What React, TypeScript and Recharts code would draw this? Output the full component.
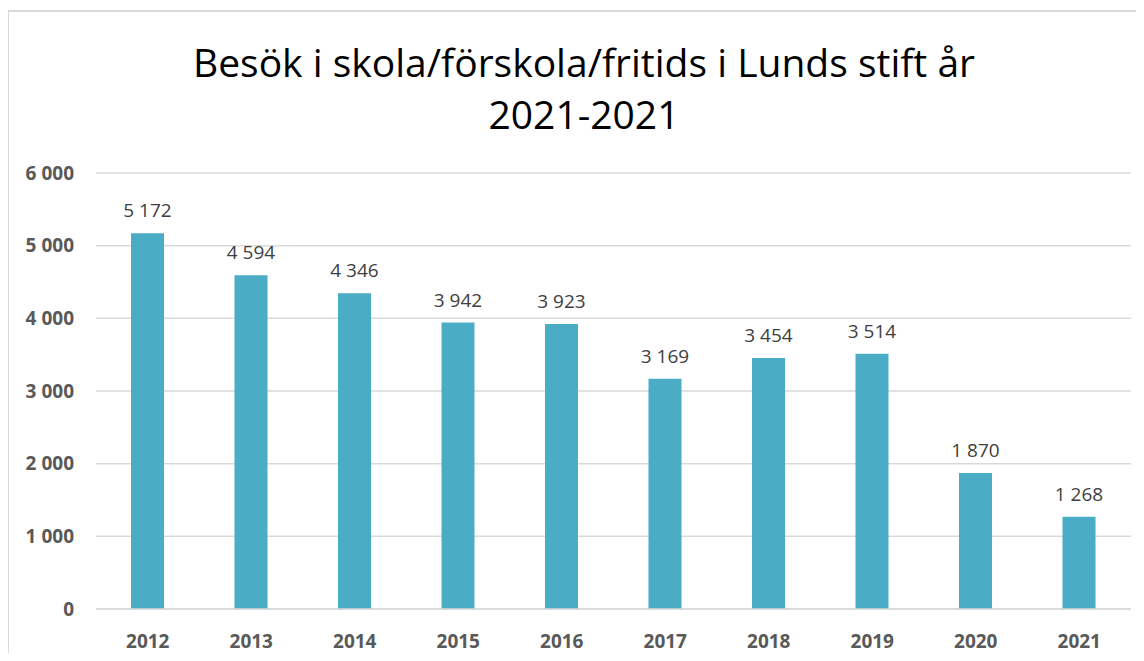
import { BarChart, Bar, XAxis, YAxis, CartesianGrid, LabelList } from "recharts";

const years = ["2012", "2013", "2014", "2015", "2016", "2017", "2018", "2019", "2020", "2021"];
const visits = [5172, 4594, 4346, 3942, 3923, 3169, 3454, 3514, 1870, 1268];
const yTicks = [0, 1000, 2000, 3000, 4000, 5000, 6000];

const data = years.map((year, i) => ({ year, visits: visits[i] }));

const fmt = (v: number) => String(v).replace(/\B(?=(\d{3})+(?!\d))/g, " ");

const font = "'Open Sans', sans-serif";

// plain svg text so the label doesn't wrap to bar width
const renderLabel = (props: any) => {
    const { x, y, width, value } = props;
    return (
        <text
            x={x + width / 2}
            y={y - 16}
            textAnchor="middle"
            fill="#404040"
            fontSize={19}
            fontFamily={font}
        >
            {fmt(Number(value))}
        </text>
    );
};

export default function App() {
    return (
        <div style={{ position: "relative", width: 1144, height: 661, margin: -8, overflow: "hidden", background: "#fff" }}>
            <div
                style={{
                    position: "absolute",
                    left: 7,
                    top: 10,
                    width: 1150,
                    height: 670,
                    border: "2px solid #d9d9d9",
                    boxSizing: "border-box",
                }}
            />
            <div
                style={{
                    position: "absolute",
                    left: 0,
                    top: 36,
                    width: 1168,
                    textAlign: "center",
                    fontFamily: font,
                    fontSize: 39,
                    lineHeight: "52px",
                    color: "#000",
                }}
            >
                Besök i skola/förskola/fritids i Lunds stift år
                <br />
                2021-2021
            </div>
            <div style={{ position: "absolute", left: 0, top: 0 }}>
                <BarChart
                    width={1144}
                    height={661}
                    data={data}
                    margin={{ top: 173, right: 13, bottom: 22, left: 16 }}
                >
                    <CartesianGrid vertical={false} stroke="#d9d9d9" strokeWidth={1.5} />
                    <XAxis
                        dataKey="year"
                        axisLine={{ stroke: "#d9d9d9", strokeWidth: 1.5 }}
                        tickLine={false}
                        height={30}
                        tickMargin={20}
                        tick={{ fill: "#595959", fontSize: 19, fontWeight: "bold", fontFamily: font }}
                    />
                    <YAxis
                        width={80}
                        domain={[0, 6000]}
                        ticks={yTicks}
                        axisLine={false}
                        tickLine={false}
                        tickMargin={16}
                        tickFormatter={fmt}
                        tick={{ fill: "#595959", fontSize: 19, fontWeight: "bold", fontFamily: font }}
                    />
                    <Bar dataKey="visits" fill="#4bacc6" barSize={33} isAnimationActive={false}>
                        <LabelList dataKey="visits" content={renderLabel} />
                    </Bar>
                </BarChart>
            </div>
        </div>
    );
}
